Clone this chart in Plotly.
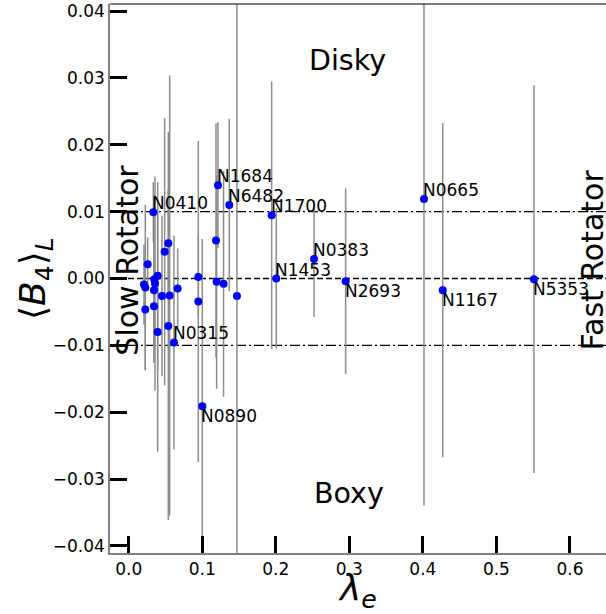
import plotly.graph_objects as go

# data
lam = [0.0335, 0.1214, 0.1368, 0.1944, 0.1187, 0.0539, 0.0489, 0.0258, 0.0394, 0.0348,
       0.0947, 0.1196, 0.1290, 0.0208, 0.0226, 0.0358, 0.0344, 0.0666, 0.0453, 0.0557,
       0.1472, 0.0947, 0.0344, 0.0226, 0.0539, 0.0394, 0.0616, 0.1001, 0.2007, 0.2520,
       0.2950, 0.4015, 0.4270, 0.5510]
b4 = [0.0099, 0.01395, 0.0110, 0.00946, 0.00568, 0.00528, 0.0040, 0.00214, 0.0004, -0.0001,
      0.00024, -0.0005, -0.0008, -0.0009, -0.00135, -0.00075, -0.00175, -0.0015, -0.0026, -0.00255,
      -0.0026, -0.00344, -0.00414, -0.00464, -0.0071, -0.0080, -0.00957, -0.0191, 0.0000, 0.00293,
      -0.0004, 0.0119, -0.00175, -0.0001]
b4_err = [0.0045, 0.0094, 0.0129, 0.0200, 0.0175, 0.008, 0.020, 0.004, 0.014, 0.0125,
          0.006, 0.016, 0.0169, 0.006, 0.0124, 0.016, 0.0109, 0.006, 0.012, 0.0329,
          0.060, 0.024, 0.006, 0.009, 0.029, 0.0179, 0.016, 0.025, 0.0105, 0.0087,
          0.0139, 0.0459, 0.025, 0.029]
names = ["N0410", "N1684", "N6482", "N1700", "", "", "", "", "", "",
         "", "", "", "", "", "", "", "", "", "",
         "", "", "", "", "", "", "N0315", "N0890", "N1453", "N0383",
         "N2693", "N0665", "N1167", "N5353"]
label_below = {"N0890", "N2693", "N1167", "N5353"}

x_ticks = [0.0, 0.1, 0.2, 0.3, 0.4, 0.5, 0.6]
y_ticks = [0.04, 0.03, 0.02, 0.01, 0.00, -0.01, -0.02, -0.03, -0.04]
x_range = [-0.0254, 0.649]
y_range = [-0.04105, 0.04105]
y_box = 0.01

FONT = "DejaVu Sans"

fig = go.Figure()

# reference lines
fig.add_trace(go.Scatter(x=x_range, y=[0, 0], mode="lines",
                         line=dict(color="black", width=1.5, dash="6px,3px"),
                         hoverinfo="skip", showlegend=False))
for yv in (y_box, -y_box):
    fig.add_trace(go.Scatter(x=x_range, y=[yv, yv], mode="lines",
                             line=dict(color="black", width=1.2, dash="10px,3px,2px,3px"),
                             hoverinfo="skip", showlegend=False))

fig.add_trace(go.Scatter(
    x=lam, y=b4, mode="markers",
    marker=dict(color="#0000ff", size=8),
    error_y=dict(type="data", array=b4_err, visible=True, color="#8c8c8c",
                 thickness=1.5, width=0),
    showlegend=False))

ann = []
for xv, yv, nm in zip(lam, b4, names):
    if not nm:
        continue
    below = nm in label_below
    ann.append(dict(x=xv, y=yv, text=nm, showarrow=False, xanchor="left",
                    yanchor="top" if below else "bottom",
                    xshift=-3, yshift=2 if below else -3,
                    font=dict(family=FONT, size=17, color="black")))

ann += [
    dict(x=0.297, y=0.0326, text="Disky", showarrow=False,
         font=dict(family=FONT, size=28.5, color="black")),
    dict(x=0.2995, y=-0.0321, text="Boxy", showarrow=False,
         font=dict(family=FONT, size=28.5, color="black")),
    dict(x=-0.002, y=0.0027, text="Slow Rotator", showarrow=False, textangle=-90,
         font=dict(family=FONT, size=30, color="black")),
    dict(x=0.630, y=0.0027, text="Fast Rotator", showarrow=False, textangle=-90,
         font=dict(family=FONT, size=30, color="black")),
    dict(xref="paper", yref="paper", x=0.498, y=-0.068, yanchor="middle",
         text="<i>λ</i><sub><i>e</i></sub>", showarrow=False,
         font=dict(family=FONT, size=36, color="black")),
    dict(xref="paper", yref="paper", x=-0.15, y=0.5, xanchor="center",
         text="⟨<i>B</i><sub>4</sub>⟩<sub><i>L</i></sub>", showarrow=False, textangle=-90,
         font=dict(family=FONT, size=36, color="black")),
]

fig.update_layout(
    width=606, height=614,
    margin=dict(l=110, r=0, t=4, b=61),
    paper_bgcolor="white", plot_bgcolor="white",
    annotations=ann,
    shapes=[dict(type="line", xref="paper", yref="paper", x0=0, x1=1, y0=1, y1=1,
                 line=dict(color="black", width=1.2))],
    font=dict(family=FONT, color="black"),
)
fig.update_xaxes(range=x_range, tickvals=x_ticks, tickformat=".1f",
                 ticks="inside", ticklen=17, tickwidth=3, tickcolor="black",
                 showline=True, linecolor="#808080", linewidth=1.5,
                 showgrid=False, zeroline=False,
                 tickfont=dict(family=FONT, size=17, color="black"))
fig.update_yaxes(range=y_range, tickvals=y_ticks, tickformat=".2f",
                 ticks="inside", ticklen=17, tickwidth=3, tickcolor="black",
                 showline=True, linecolor="#808080", linewidth=1.5,
                 showgrid=False, zeroline=False,
                 tickfont=dict(family=FONT, size=17, color="black"))

fig.write_html("out.html")
